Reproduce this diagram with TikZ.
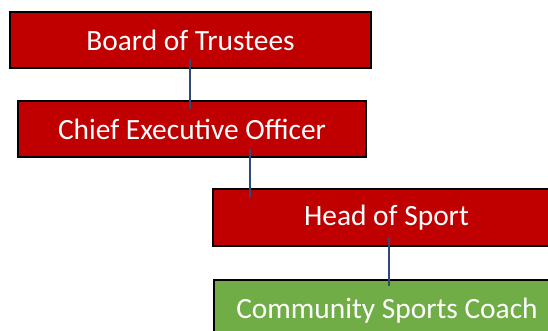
\documentclass[tikz,border=0pt]{standalone}
\usepackage{fontspec}
\setmainfont{Carlito}
\usepackage{tikz}
\usetikzlibrary{positioning}

\definecolor{boxred}{HTML}{C00000}
\definecolor{boxgreen}{HTML}{70AD47}
\definecolor{linkblue}{HTML}{2F4A78}

\tikzset{
  post/.style={draw=black, line width=0.8pt, text=white, inner sep=0pt,
    minimum height=28pt, font=\fontsize{14.7}{17}\selectfont},
  redpost/.style={post, fill=boxred},
  greenpost/.style={post, fill=boxgreen},
  link/.style={linkblue, line width=0.6pt}
}

\begin{document}
\begin{tikzpicture}[x=0.5pt, y=-0.5pt]

\useasboundingbox (0,0) rectangle (548,331);

\node[redpost, minimum width=180.5pt] (board) at (190.5, 40) {Board of Trustees};
\node[redpost, minimum width=174pt] (ceo) at (192, 129) {Chief Executive Officer};
\node[redpost, minimum width=173.5pt, minimum height=28.5pt] (head) at (386.5, 217.5) {Head of Sport};
\node[greenpost, minimum width=173pt, minimum height=31pt] (coach) at (387, 311) {Community Sports Coach};

\draw[link] ([shift={(-0.5,-10)}]board.south) coordinate (l1)
  -- ([yshift=-4.5pt]l1 |- ceo.north);
\draw[link] ([shift={(58,-9)}]ceo.south) coordinate (l2)
  -- ([yshift=-5pt]l2 |- head.north);
\draw[link] ([shift={(2.5,-10)}]head.south) coordinate (l3)
  -- ([yshift=-3.5pt]l3 |- coach.north);

\end{tikzpicture}
\end{document}
